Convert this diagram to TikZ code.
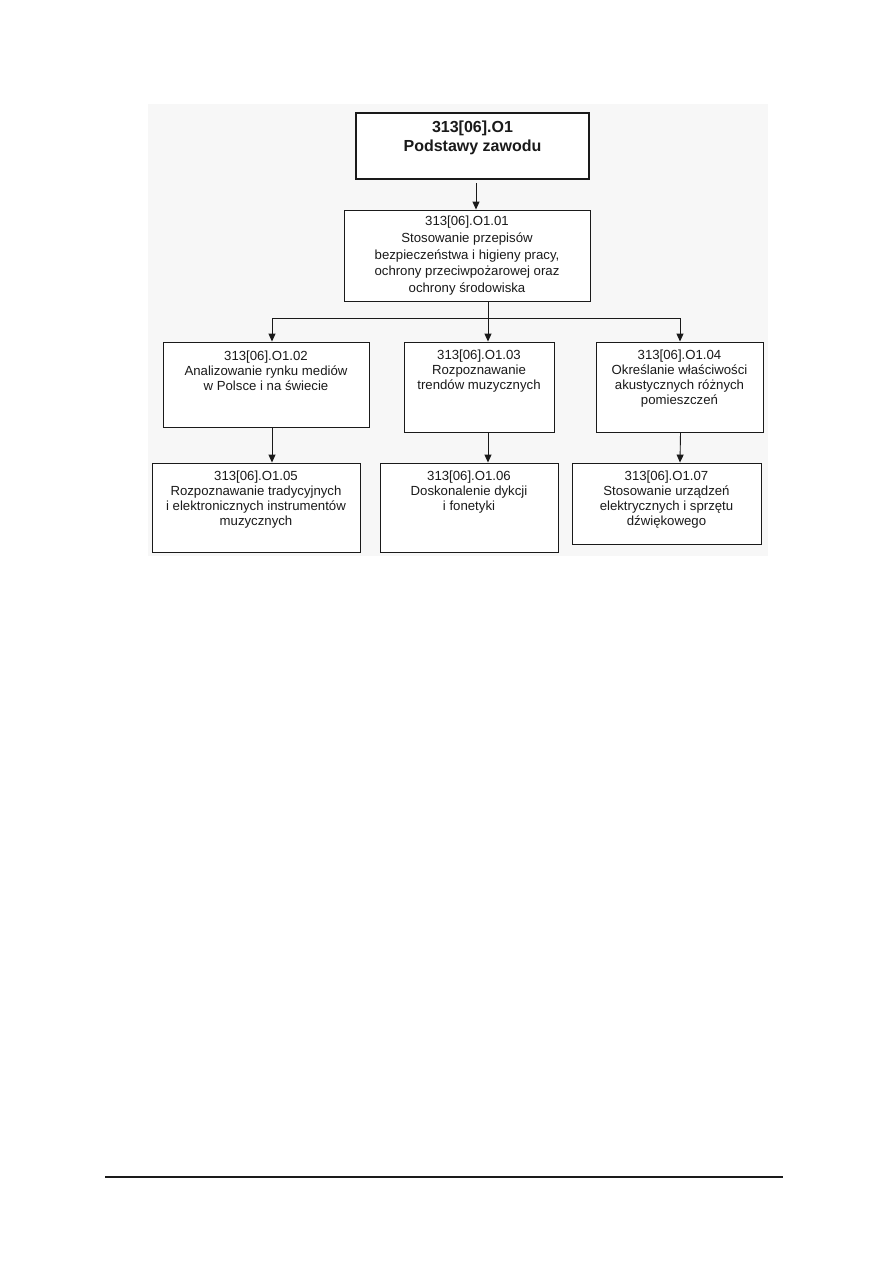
\documentclass[tikz,border=0pt]{standalone}
\usepackage{fontspec}
\setmainfont{Liberation Sans}
\usetikzlibrary{arrows.meta}
\definecolor{bggray}{HTML}{F7F7F7}
\definecolor{ink}{HTML}{1A1A1A}
\begin{document}
\begin{tikzpicture}[x=1pt,y=-1pt,
  box/.style={draw=ink,fill=white,line width=0.9pt,inner sep=0pt,rectangle},
  txt/.style={anchor=north,align=center,inner sep=0pt,text=ink,font=\fontsize{13.2}{15}\selectfont},
  arr/.style={draw=ink,line width=0.9pt,-{Triangle[length=8pt,width=7pt]}},
  ln/.style={draw=ink,line width=0.9pt}]
\useasboundingbox[fill=white] (0,0) rectangle (893,1263);
\fill[bggray] (148,104) rectangle (768,556);
% boxes
\node[box,line width=2.8pt,minimum width=233pt,minimum height=66pt] (top) at (472.5,146) {};
\node[box,minimum width=246pt,minimum height=91pt] (b01) at (467,255.5) {};
\node[box,minimum width=206pt,minimum height=85pt] (b02) at (266,384.5) {};
\node[box,minimum width=150pt,minimum height=90pt] (b03) at (479,387) {};
\node[box,minimum width=167pt,minimum height=90pt] (b04) at (679.5,387) {};
\node[box,minimum width=208pt,minimum height=89pt] (b05) at (256,507.5) {};
\node[box,minimum width=178pt,minimum height=89pt] (b06) at (469,507.5) {};
\node[box,minimum width=189pt,minimum height=81pt] (b07) at (666.5,503.5) {};
% texts
\node[txt,font=\bfseries\fontsize{16}{19.5}\selectfont] (ttop) at ([yshift=-9pt]top.north) {313[06].O1\\Podstawy zawodu};
\node[txt,font=\fontsize{13.2}{16.6}\selectfont] (t01) at ([yshift=-6.5pt]b01.north) {313[06].O1.01\\Stosowanie przepisów\\bezpieczeństwa i higieny pracy,\\ochrony przeciwpożarowej oraz\\ochrony środowiska};
\node[txt] (t02) at ([yshift=-9pt]b02.north) {313[06].O1.02\\Analizowanie rynku mediów\\w Polsce i na świecie};
\node[txt] (t03) at ([yshift=-8pt]b03.north) {313[06].O1.03\\Rozpoznawanie\\trendów muzycznych};
\node[txt] (t04) at ([yshift=-8.5pt]b04.north) {313[06].O1.04\\Określanie właściwości\\akustycznych różnych\\pomieszczeń};
\node[txt] (t05) at ([yshift=-8.5pt]b05.north) {313[06].O1.05\\Rozpoznawanie tradycyjnych\\i elektronicznych instrumentów\\muzycznych};
\node[txt] (t06) at ([yshift=-8.2pt]b06.north) {313[06].O1.06\\Doskonalenie dykcji\\i fonetyki};
\node[txt] (t07) at ([yshift=-8.2pt]b07.north) {313[06].O1.07\\Stosowanie urządzeń\\elektrycznych i sprzętu\\dźwiękowego};
% connectors
\draw[arr,shorten <=3pt] ([xshift=3.5pt]top.south) -- ([xshift=9pt]b01.north);
\coordinate (j) at (488,318);
\draw[ln] ([xshift=21pt]b01.south) -- (j);
\draw[arr] (j) -- (j |- b03.north);
\draw[arr] (j) -| ([xshift=6pt]b02.north);
\draw[arr] (j) -| ([xshift=0.5pt]b04.north);
\draw[arr] ([xshift=6pt]b02.south) -- ([xshift=16pt]b05.north);
\draw[arr] ([xshift=9pt]b03.south) -- ([xshift=19pt]b06.north);
\draw[arr] ([xshift=1pt]b04.south) -- ([xshift=13.5pt]b07.north);
% footer rule
\draw[ink,line width=1.3pt] (105,1177) -- (783,1177);
\end{tikzpicture}
\end{document}
